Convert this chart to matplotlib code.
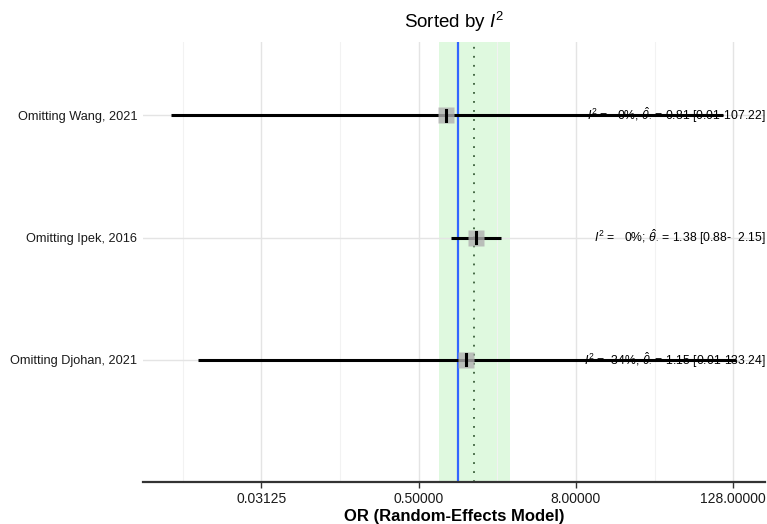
import numpy as np
import matplotlib
matplotlib.use('Agg')
import matplotlib.pyplot as plt
from matplotlib.ticker import FixedLocator, FixedFormatter

plt.rcParams['font.family'] = ['Liberation Sans', 'DejaVu Sans']
plt.rcParams['mathtext.fontset'] = 'custom'
plt.rcParams['mathtext.rm'] = 'Liberation Sans'
plt.rcParams['mathtext.it'] = 'Liberation Sans:italic'

# leave-one-out results, sorted by I^2 (top to bottom)
studies = ['Omitting Wang, 2021', 'Omitting Ipek, 2016', 'Omitting Djohan, 2021']
or_est = [0.81, 1.38, 1.15]
ci_low = [0.0063, 0.88, 0.0102]
ci_high = [107.22, 2.15, 133.24]
i2 = [0, 0, 34]
seps = [',', ';', ',']

pooled_or = 1.32
pooled_low = 0.71
pooled_high = 2.50
null_or = 1.0

xticks = [0.03125, 0.5, 8.0, 128.0]
xminor = [2**-7, 2**-3, 2.0, 32.0]

fig = plt.figure(figsize=(7.67, 5.24), dpi=100)
ax = fig.add_axes([0.187, 0.080, 0.810, 0.840])

ys = np.arange(len(studies), 0, -1)

ax.axvspan(pooled_low, pooled_high, color='#dff9df', zorder=0, lw=0)
for xm in xminor:
    ax.axvline(xm, color='#f2f2f2', lw=0.8, zorder=0.5)
for xt in xticks:
    ax.axvline(xt, color='#e4e4e4', lw=1.0, zorder=0.5)
for y in ys:
    ax.axhline(y, color='#e4e4e4', lw=1.0, zorder=0.5)

ax.axvline(null_or, color='#3366ff', lw=1.6, zorder=1)
ax.axvline(pooled_or, color='#3a5f3a', lw=1.3, ls=(0, (1, 4)), zorder=1)

for y, s, est, lo, hi, i, sep in zip(ys, studies, or_est, ci_low, ci_high, i2, seps):
    label = (r'$I^2$ = %3d%%%s $\hat{\theta}_{\cdot}$ = %.2f [%.2f-%6.2f]'
             % (i, sep, est, lo, hi))
    ax.text(1.0 + 0.002, y, label, transform=ax.get_yaxis_transform(),
            ha='right', va='center', fontsize=8.8, zorder=2, clip_on=False)
    ax.plot([lo, hi], [y, y], color='black', lw=2.2, zorder=3, solid_capstyle='butt')
    ax.plot([est], [y], marker='s', ms=11, color='#b0b0b0', alpha=0.8,
            mec='none', zorder=4)
    ax.plot([est, est], [y - 0.045, y + 0.045], color='black', lw=2.2, zorder=5)

ax.set_xscale('log', base=2)
ax.set_xlim(2**-8.0, 2**7.8)
ax.set_ylim(0, 3.6)
ax.xaxis.set_major_locator(FixedLocator(xticks))
ax.xaxis.set_major_formatter(FixedFormatter(['%.5f' % v for v in xticks]))
ax.xaxis.set_minor_locator(FixedLocator([]))
ax.set_yticks(ys)
ax.set_yticklabels(studies, fontsize=9.2, color='#1a1a1a')
ax.tick_params(axis='y', length=0, pad=4.5)
ax.tick_params(axis='x', length=4, width=1.0, color='#333333', labelsize=10,
               labelcolor='#1a1a1a', pad=3)

for side in ['top', 'right', 'left']:
    ax.spines[side].set_visible(False)
ax.spines['bottom'].set_color('#333333')
ax.spines['bottom'].set_linewidth(1.6)

ax.set_xlabel('OR (Random-Effects Model)', fontsize=12, fontweight='bold', labelpad=2)
ax.set_title(r'Sorted by $I^2$', fontsize=13.5, pad=10)

fig.savefig('out.png', dpi=100)
